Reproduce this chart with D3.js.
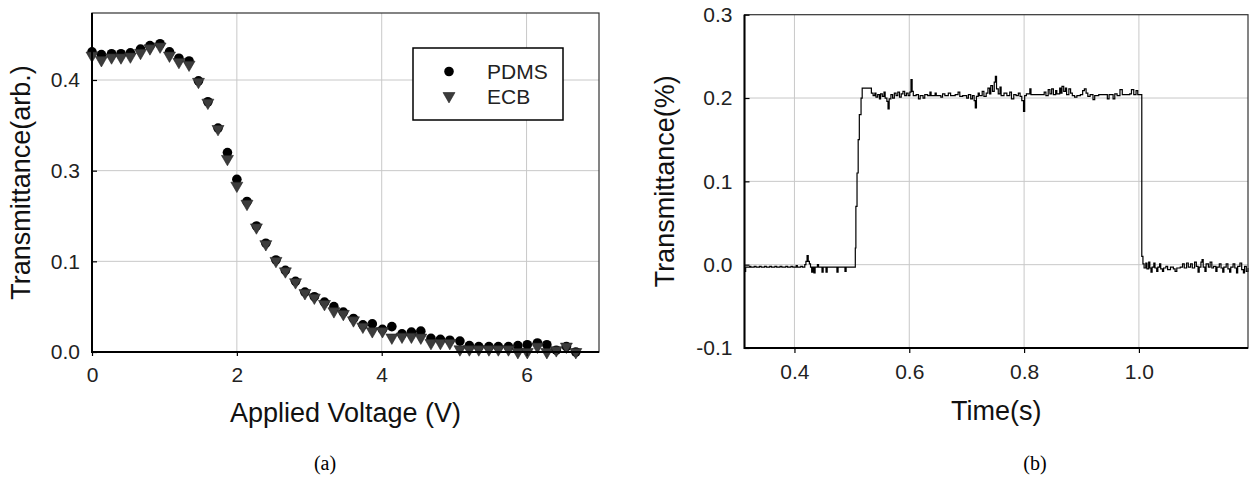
<!DOCTYPE html>
<html>
<head>
<meta charset="utf-8">
<script src="https://cdn.jsdelivr.net/npm/d3@7"></script>
<style>
  body { margin: 0; background: #fff; }
  svg { display: block; font-family: Arial, "Liberation Sans", sans-serif; }
</style>
</head>
<body>
<script>
///////////////////////////
// DATA  (a) transmittance vs applied voltage
const voltage = [0.00, 0.13, 0.27, 0.40, 0.53, 0.67, 0.80, 0.94, 1.07, 1.20,
  1.34, 1.47, 1.60, 1.74, 1.87, 2.00, 2.14, 2.27, 2.40, 2.54,
  2.67, 2.81, 2.94, 3.07, 3.21, 3.34, 3.47, 3.61, 3.74, 3.87,
  4.01, 4.14, 4.28, 4.41, 4.54, 4.68, 4.81, 4.94, 5.08, 5.21,
  5.34, 5.48, 5.61, 5.75, 5.88, 6.01, 6.15, 6.28, 6.41, 6.55, 6.68];
const pdms = [0.431, 0.428, 0.429, 0.429, 0.430, 0.434, 0.438, 0.440, 0.431, 0.424,
  0.421, 0.399, 0.376, 0.347, 0.320, 0.281, 0.232, 0.178, 0.140, 0.103,
  0.090, 0.078, 0.066, 0.061, 0.055, 0.050, 0.044, 0.037, 0.030, 0.031,
  0.025, 0.028, 0.020, 0.022, 0.023, 0.015, 0.014, 0.013, 0.012, 0.007,
  0.006, 0.006, 0.006, 0.006, 0.007, 0.008, 0.010, 0.008, 0.002, 0.006, 0.000];
const ecb = [0.427, 0.422, 0.425, 0.425, 0.426, 0.430, 0.435, 0.437, 0.427, 0.420,
  0.417, 0.398, 0.375, 0.346, 0.313, 0.267, 0.227, 0.175, 0.138, 0.101,
  0.089, 0.077, 0.065, 0.060, 0.053, 0.045, 0.042, 0.035, 0.028, 0.023,
  0.023, 0.016, 0.017, 0.017, 0.016, 0.010, 0.010, 0.010, 0.003, 0.003,
  0.003, 0.003, 0.003, 0.003, 0.000, 0.000, 0.006, 0.000, 0.002, 0.006, 0.000];
const voltTicks = [0, 2, 4, 6];
const transTicks = [0.0, 0.1, 0.3, 0.4];   // labels as printed on the original axis
const seriesNames = ["PDMS", "ECB"];

///////////////////////////
// DATA  (b) transmittance vs time
const timeSec = [0.313, 0.315, 0.322, 0.324, 0.330, 0.333, 0.339, 0.342, 0.348, 0.351,
  0.357, 0.360, 0.366, 0.369, 0.375, 0.378, 0.385, 0.388, 0.394, 0.397,
  0.403, 0.405, 0.411, 0.414, 0.418, 0.420, 0.422, 0.424, 0.426, 0.428,
  0.430, 0.432, 0.434, 0.436, 0.440, 0.442, 0.448, 0.450, 0.455, 0.457,
  0.470, 0.474, 0.476, 0.486, 0.488, 0.490, 0.5045,
  0.506, 0.507, 0.509, 0.511, 0.513, 0.516, 0.518, 0.534, 0.537, 0.540,
  0.542, 0.545, 0.548, 0.550, 0.553, 0.556, 0.558, 0.561, 0.563, 0.565,
  0.568, 0.571, 0.574, 0.577, 0.580, 0.583, 0.586, 0.589, 0.592, 0.595,
  0.598, 0.601, 0.603, 0.605, 0.607, 0.612, 0.616, 0.619, 0.624, 0.627,
  0.632, 0.636, 0.638, 0.645, 0.647, 0.655, 0.658, 0.662, 0.668, 0.672,
  0.680, 0.685, 0.688, 0.693, 0.700, 0.703, 0.707, 0.710, 0.713, 0.715,
  0.717, 0.720, 0.722, 0.727, 0.730, 0.734, 0.737, 0.740, 0.742, 0.745,
  0.748, 0.750, 0.752, 0.755, 0.758, 0.760, 0.765, 0.770, 0.775, 0.778,
  0.782, 0.786, 0.790, 0.793, 0.796, 0.799, 0.801, 0.804, 0.810, 0.812,
  0.820, 0.830, 0.835, 0.838, 0.842, 0.845, 0.848, 0.851, 0.855, 0.857,
  0.862, 0.864, 0.866, 0.869, 0.872, 0.874, 0.878, 0.881, 0.884, 0.888,
  0.892, 0.898, 0.902, 0.905, 0.908, 0.911, 0.915, 0.920, 0.923, 0.930,
  0.940, 0.945, 0.948, 0.955, 0.958, 0.962, 0.967, 0.971, 0.984, 0.987,
  0.991, 0.995, 0.998, 1.004,
  1.005, 1.007, 1.009, 1.012, 1.014, 1.017, 1.019, 1.021, 1.023, 1.026,
  1.028, 1.031, 1.033, 1.036, 1.038, 1.041, 1.043, 1.047, 1.050, 1.055,
  1.060, 1.063, 1.066, 1.072, 1.076, 1.079, 1.083, 1.086, 1.090, 1.093,
  1.097, 1.100, 1.103, 1.105, 1.108, 1.110, 1.112, 1.115, 1.117, 1.121,
  1.124, 1.127, 1.130, 1.134, 1.136, 1.140, 1.143, 1.146, 1.148, 1.152,
  1.155, 1.158, 1.160, 1.164, 1.167, 1.170, 1.172, 1.176, 1.179, 1.182,
  1.184, 1.187, 1.190];
const transPct = [-0.008, -0.003, -0.002, -0.003, -0.002, -0.003, -0.002, -0.003, -0.002, -0.003,
  -0.002, -0.003, -0.002, -0.003, -0.002, -0.003, -0.002, -0.003, -0.002, -0.003,
  -0.001, -0.003, -0.002, -0.003, 0.000, 0.004, 0.011, 0.004, 0.001, -0.003,
  -0.009, -0.003, -0.010, -0.003, 0.000, -0.003, -0.009, -0.003, -0.009, -0.003,
  -0.003, -0.009, -0.003, -0.003, -0.008, -0.003, -0.003,
  0.020, 0.070, 0.110, 0.150, 0.180, 0.200, 0.212, 0.206, 0.203, 0.206,
  0.201, 0.204, 0.199, 0.205, 0.202, 0.207, 0.200, 0.196, 0.187, 0.199,
  0.204, 0.200, 0.206, 0.203, 0.207, 0.201, 0.205, 0.208, 0.203, 0.206,
  0.203, 0.207, 0.222, 0.208, 0.203, 0.204, 0.199, 0.203, 0.200, 0.204,
  0.203, 0.207, 0.203, 0.206, 0.203, 0.201, 0.205, 0.203, 0.206, 0.203,
  0.204, 0.207, 0.202, 0.203, 0.200, 0.204, 0.199, 0.203, 0.197, 0.188,
  0.202, 0.206, 0.203, 0.208, 0.202, 0.206, 0.212, 0.205, 0.215, 0.208,
  0.219, 0.226, 0.211, 0.205, 0.213, 0.203, 0.206, 0.203, 0.207, 0.199,
  0.204, 0.203, 0.206, 0.202, 0.197, 0.184, 0.203, 0.205, 0.211, 0.204,
  0.204, 0.204, 0.207, 0.203, 0.210, 0.205, 0.211, 0.204, 0.209, 0.205,
  0.212, 0.206, 0.214, 0.208, 0.212, 0.204, 0.211, 0.206, 0.203, 0.201,
  0.203, 0.204, 0.209, 0.211, 0.206, 0.202, 0.204, 0.198, 0.203, 0.204,
  0.204, 0.199, 0.204, 0.199, 0.205, 0.203, 0.210, 0.204, 0.205, 0.210,
  0.204, 0.209, 0.204, 0.204,
  0.010, 0.001, -0.004, 0.002, -0.005, 0.003, -0.004, -0.009, -0.003, 0.002,
  -0.004, -0.008, -0.003, 0.001, -0.005, -0.008, -0.004, -0.002, -0.006, -0.003,
  -0.005, -0.008, -0.004, -0.003, 0.001, -0.004, 0.002, -0.003, 0.001, -0.004,
  0.003, -0.002, -0.009, -0.003, 0.003, 0.006, -0.003, -0.008, 0.001, -0.003,
  0.003, -0.004, -0.002, -0.008, -0.003, 0.001, -0.004, -0.009, -0.003, 0.001,
  -0.005, -0.009, -0.003, 0.001, -0.004, -0.010, -0.002, 0.002, -0.006, -0.010,
  -0.002, -0.008, -0.004];
const timeTicks = [0.4, 0.6, 0.8, 1.0];
const pctTicks = [-0.1, 0.0, 0.1, 0.2, 0.3];

///////////////////////////
// SVG
var svg = d3.select("body").append("svg")
  .attr("width", 1250)
  .attr("height", 478)
  .style("background-color", "#fff");

var gridColor = "#c8c8c8";
var tickFont = "21px";
var titleFont = "27px";

function styleAxis(g){
  g.select(".domain").remove();
  g.selectAll(".tick line").attr("stroke", "#000").attr("stroke-width", 1.2);
  g.selectAll(".tick text").attr("fill", "#222").style("font-size", tickFont);
}

function drawFrame(p){
  // thin box then heavier left/bottom axis lines
  svg.append("rect")
    .attr("x", p.left).attr("y", p.top)
    .attr("width", p.right - p.left).attr("height", p.bottom - p.top)
    .attr("fill", "none").attr("stroke", "#333").attr("stroke-width", 1.2);
  svg.append("path")
    .attr("d", "M" + p.left + "," + p.top + "V" + p.bottom + "H" + p.right)
    .attr("fill", "none").attr("stroke", "#000").attr("stroke-width", 2);
}

///////////////////////////
// PANEL (a)
var pa = {left: 92, top: 13, right: 599, bottom: 352};
var xa = d3.scaleLinear().domain([0, 7]).range([pa.left, pa.right]);
var rowStep = (pa.bottom - 80) / (transTicks.length - 1);
var ya = d3.scaleLinear()
  .domain(transTicks)
  .range(transTicks.map(function(d, i){ return pa.bottom - i * rowStep; }));

// grid
svg.append("g").selectAll("line")
  .data(voltTicks.filter(function(d){ return d > 0; }))
  .enter().append("line")
  .attr("x1", function(d){ return xa(d); }).attr("x2", function(d){ return xa(d); })
  .attr("y1", pa.top).attr("y2", pa.bottom)
  .attr("stroke", gridColor);
svg.append("g").selectAll("line")
  .data(transTicks.filter(function(d){ return d > 0; }))
  .enter().append("line")
  .attr("y1", function(d){ return ya(d); }).attr("y2", function(d){ return ya(d); })
  .attr("x1", pa.left).attr("x2", pa.right)
  .attr("stroke", gridColor);

// markers: PDMS circles under ECB down-triangles
var tri = d3.symbol().type(d3.symbolTriangle).size(62);
svg.append("g").selectAll("circle")
  .data(voltage)
  .enter().append("circle")
  .attr("cx", function(d){ return xa(d); })
  .attr("cy", function(d, i){ return ya(pdms[i]); })
  .attr("r", 4.8)
  .attr("fill", "#000");
svg.append("g").selectAll("path")
  .data(voltage)
  .enter().append("path")
  .attr("d", tri)
  .attr("transform", function(d, i){ return "translate(" + xa(d) + "," + ya(ecb[i]) + ") rotate(180)"; })
  .attr("fill", "#3c3c3c")
  .attr("stroke", "#222")
  .attr("stroke-width", 0.6);

drawFrame(pa);

svg.append("g")
  .attr("transform", "translate(0," + pa.bottom + ")")
  .call(d3.axisBottom(xa).tickValues(voltTicks).tickFormat(d3.format("d")).tickSize(4).tickPadding(11))
  .call(styleAxis);
svg.append("g")
  .attr("transform", "translate(" + pa.left + ",0)")
  .call(d3.axisLeft(ya).tickValues(transTicks).tickFormat(d3.format(".1f")).tickSize(-5).tickPadding(12))
  .call(styleAxis);

// legend
var lg = svg.append("g").attr("transform", "translate(413,48)");
lg.append("rect").attr("width", 150).attr("height", 72)
  .attr("fill", "#fff").attr("stroke", "#000").attr("stroke-width", 1.5);
lg.append("circle").attr("cx", 36).attr("cy", 23.5).attr("r", 4.8).attr("fill", "#000");
lg.append("path").attr("d", tri)
  .attr("transform", "translate(36,48) rotate(180)")
  .attr("fill", "#3c3c3c").attr("stroke", "#222").attr("stroke-width", 0.6);
lg.selectAll("text").data(seriesNames).enter().append("text")
  .attr("x", 74).attr("y", function(d, i){ return 24 + i * 25; })
  .attr("dy", "0.35em")
  .style("font-size", tickFont).attr("fill", "#222")
  .text(function(d){ return d; });

svg.append("text")
  .attr("x", (pa.left + pa.right) / 2).attr("y", 422)
  .attr("text-anchor", "middle").style("font-size", titleFont).attr("fill", "#111")
  .text("Applied Voltage (V)");
svg.append("text")
  .attr("transform", "translate(29.5," + (pa.top + pa.bottom) / 2 + ") rotate(-90)")
  .attr("text-anchor", "middle").style("font-size", titleFont).attr("fill", "#111")
  .text("Transmittance(arb.)");
svg.append("text")
  .attr("x", 325).attr("y", 470)
  .attr("text-anchor", "middle")
  .style("font-family", "'Liberation Serif', 'Times New Roman', serif").style("font-size", "20px")
  .text("(a)");

///////////////////////////
// PANEL (b)
var pb = {left: 744.5, top: 14.7, right: 1248, bottom: 348};
var xb = d3.scaleLinear().domain([0.313, 1.19]).range([pb.left, pb.right]);
var yb = d3.scaleLinear().domain([-0.1, 0.3]).range([pb.bottom, pb.top]);

svg.append("g").selectAll("line")
  .data(timeTicks)
  .enter().append("line")
  .attr("x1", function(d){ return xb(d); }).attr("x2", function(d){ return xb(d); })
  .attr("y1", pb.top).attr("y2", pb.bottom)
  .attr("stroke", gridColor);
svg.append("g").selectAll("line")
  .data(pctTicks.filter(function(d){ return d > -0.1 && d < 0.3; }))
  .enter().append("line")
  .attr("y1", function(d){ return yb(d); }).attr("y2", function(d){ return yb(d); })
  .attr("x1", pb.left).attr("x2", pb.right)
  .attr("stroke", gridColor);

var trace = d3.line()
  .x(function(d){ return xb(d); })
  .y(function(d, i){ return yb(transPct[i]); })
  .curve(d3.curveStepAfter);
svg.append("path")
  .datum(timeSec)
  .attr("d", trace)
  .attr("fill", "none")
  .attr("stroke", "#000")
  .attr("stroke-width", 1.2);

drawFrame(pb);

svg.append("g")
  .attr("transform", "translate(0," + pb.bottom + ")")
  .call(d3.axisBottom(xb).tickValues(timeTicks).tickFormat(d3.format(".1f")).tickSize(5).tickPadding(11))
  .call(styleAxis);
svg.append("g")
  .attr("transform", "translate(" + pb.left + ",0)")
  .call(d3.axisLeft(yb).tickValues(pctTicks).tickFormat(d3.format(".1f")).tickSize(-5).tickPadding(12))
  .call(styleAxis);
// d3 prints a unicode minus, original uses a hyphen
svg.selectAll(".tick text").text(function(){ return this.textContent.replace("\u2212", "-"); });

svg.append("text")
  .attr("x", (pb.left + pb.right) / 2).attr("y", 420)
  .attr("text-anchor", "middle").style("font-size", titleFont).attr("fill", "#111")
  .text("Time(s)");
svg.append("text")
  .attr("transform", "translate(674," + (pb.top + pb.bottom) / 2 + ") rotate(-90)")
  .attr("text-anchor", "middle").style("font-size", titleFont).attr("fill", "#111")
  .text("Transmittance(%)");
svg.append("text")
  .attr("x", 1035).attr("y", 470)
  .attr("text-anchor", "middle")
  .style("font-family", "'Liberation Serif', 'Times New Roman', serif").style("font-size", "20px")
  .text("(b)");
</script>
</body>
</html>
